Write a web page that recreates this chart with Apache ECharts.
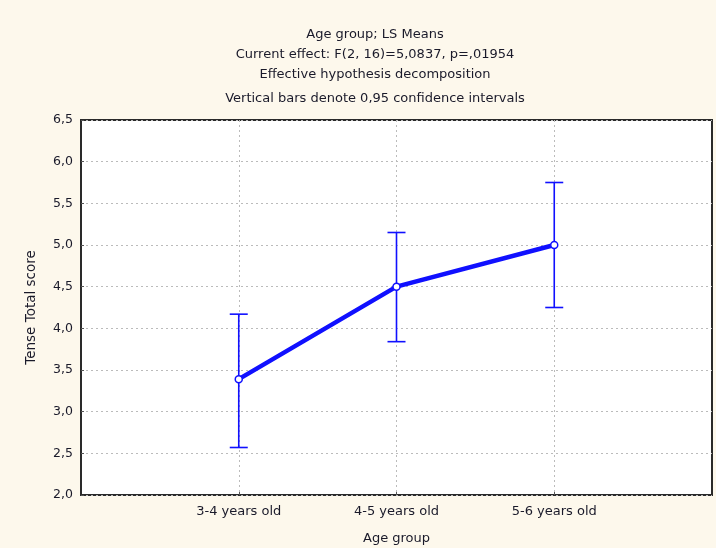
<!DOCTYPE html>
<html><head><meta charset="utf-8">
<script src="https://cdn.jsdelivr.net/npm/echarts@6/dist/echarts.min.js"></script>
<style>html,body{margin:0;padding:0;background:#fdf8ec;}#c{width:716px;height:548px;}</style>
</head><body><div id="c"></div>
<script>
var categories = ['', '3-4 years old', '4-5 years old', '5-6 years old', ''];
var means = [null, 3.39, 4.50, 5.00, null];
var ciLower = [null, 2.57, 3.84, 4.25, null];
var ciUpper = [null, 4.17, 5.15, 5.75, null];
var yTicks = [2.0, 2.5, 3.0, 3.5, 4.0, 4.5, 5.0, 5.5, 6.0, 6.5];
var titleLines = ['Age group; LS Means', 'Current effect: F(2, 16)=5,0837, p=,01954', 'Effective hypothesis decomposition', 'Vertical bars denote 0,95 confidence intervals'];

var errData = [];
for (var i = 0; i < categories.length; i++) {
  if (means[i] !== null) errData.push([i, ciLower[i], ciUpper[i]]);
}
var blue = '#1010ff';
var font = 'DejaVu Sans, Arial, sans-serif';
var txt = '#1a1a2a';
var titleTops = [23, 43, 63, 87];
var titles = titleLines.map(function(t, k){
  return {text: t, left: 370, top: titleTops[k], textAlign: 'center',
    textStyle: {fontFamily: font, fontSize: 13, fontWeight: 'normal', color: txt}};
});
var chart = echarts.init(document.getElementById('c'));
chart.setOption({
  backgroundColor: '#fdf8ec',
  animation: false,
  title: titles,
  grid: {left: 81, top: 120, right: 4, bottom: 53, show: true, backgroundColor: '#fff', borderColor: '#2a2a2a', borderWidth: 2, outerBoundsMode: 'none', containLabel: false},
  xAxis: {
    type: 'category', data: categories, boundaryGap: false,
    name: 'Age group', nameLocation: 'middle', nameGap: 37,
    nameTextStyle: {fontFamily: font, fontSize: 13, color: txt},
    axisLine: {show: false},
    axisTick: {show: true, inside: true, length: 3, lineStyle: {color: '#555'}, interval: function(i){return i>0 && i<4;}},
    axisLabel: {fontFamily: font, fontSize: 13, color: txt, margin: 10, interval: 0},
    splitLine: {show: true, interval: function(i){return i>0 && i<4;}, lineStyle: {color: '#bbb', type: [2, 3]}}
  },
  yAxis: {
    type: 'value', min: 2.0, max: 6.5, interval: 0.5,
    name: 'Tense Total score', nameLocation: 'middle', nameGap: 43,
    nameTextStyle: {fontFamily: font, fontSize: 13.5, color: txt},
    axisLine: {show: false},
    axisTick: {show: true, inside: true, length: 3, lineStyle: {color: '#555'}},
    axisLabel: {fontFamily: font, fontSize: 12.5, color: txt, margin: 8,
      formatter: function(v){return v.toFixed(1).replace('.', ',');}},
    splitLine: {show: true, lineStyle: {color: '#bbb', type: [2, 3]}}
  },
  series: [
    {
      type: 'custom', data: errData, z: 3,
      renderItem: function(params, api) {
        var x = api.value(0);
        var lo = api.coord([x, api.value(1)]);
        var hi = api.coord([x, api.value(2)]);
        var hw = 9;
        var st = {stroke: blue, lineWidth: 1.6};
        return {type: 'group', children: [
          {type: 'line', shape: {x1: lo[0], y1: lo[1], x2: hi[0], y2: hi[1]}, style: st},
          {type: 'line', shape: {x1: lo[0]-hw, y1: lo[1], x2: lo[0]+hw, y2: lo[1]}, style: st},
          {type: 'line', shape: {x1: hi[0]-hw, y1: hi[1], x2: hi[0]+hw, y2: hi[1]}, style: st}
        ]};
      }
    },
    {
      type: 'line', data: means, z: 4, connectNulls: false,
      lineStyle: {color: blue, width: 4.5},
      symbol: 'circle', symbolSize: 7,
      itemStyle: {color: '#fff', borderColor: blue, borderWidth: 1.5}
    }
  ]
});
</script></body></html>
